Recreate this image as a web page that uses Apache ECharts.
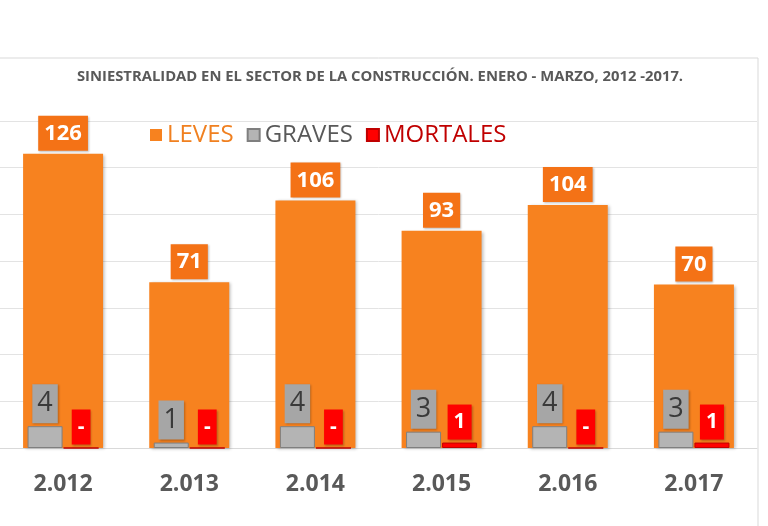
<!DOCTYPE html>
<html><head><meta charset="utf-8">
<script src="https://cdn.jsdelivr.net/npm/echarts@6/dist/echarts.min.js"></script>
<style>html,body{margin:0;padding:0;background:#fff}#c{width:768px;height:526px}</style>
</head><body><div id="c"></div>
<script>
const categories = ['2.012','2.013','2.014','2.015','2.016','2.017'];
const leves = [126, 71, 106, 93, 104, 70];
const graves = [4, 1, 4, 3, 4, 3];
const mortales = [0, 0, 0, 1, 0, 1];
const yTicks = {min: 0, max: 140, interval: 20};
const y2Range = {min: 0, max: 60};

const FONT = '"Open Sans", "Noto Sans", sans-serif';
const chart = echarts.init(document.getElementById('c'), null, {renderer: 'canvas'});
chart.setOption({
  animation: false,
  title: {
    text: 'SINIESTRALIDAD EN EL SECTOR DE LA CONSTRUCCIÓN. ENERO - MARZO, 2012 -2017.',
    left: 375, textAlign: 'center', top: 64,
    textStyle: {fontFamily: FONT, fontSize: 14.8, fontWeight: 'bold', color: '#595959'}
  },
  graphic: [{
    type: 'rect', shape: {x: -5, y: 58, width: 763, height: 500},
    style: {fill: 'none', stroke: '#D9D9D9', lineWidth: 1}, silent: true, z: -1
  }],
  legend: {
    left: 145, top: 118, itemWidth: 12, itemHeight: 12, itemGap: 13, icon: 'rect',
    textStyle: {fontFamily: FONT, fontSize: 24},
    data: [
      {name: 'LEVES', textStyle: {color: '#F08020'}},
      {name: 'GRAVES', textStyle: {color: '#595959'}},
      {name: 'MORTALES', textStyle: {color: '#C00000'}}
    ]
  },
  grid: {left: -1, width: 758, top: 121, bottom: 78},
  xAxis: [{
    type: 'category', data: categories,
    axisLine: {lineStyle: {color: '#D9D9D9'}}, axisTick: {show: false},
    axisLabel: {fontFamily: FONT, fontSize: 23, fontWeight: 'bold', color: '#595959', margin: 25}
  }, {
    type: 'category', data: categories, show: false
  }],
  yAxis: [{
    type: 'value', min: yTicks.min, max: yTicks.max, interval: yTicks.interval,
    axisLabel: {show: false}, axisLine: {show: false}, axisTick: {show: false},
    splitLine: {lineStyle: {color: '#E3E3E3'}}
  }, {
    type: 'value', min: y2Range.min, max: y2Range.max, show: false, splitLine: {show: false}
  }],
  series: [{
    name: 'LEVES', type: 'bar', data: leves, xAxisIndex: 0, yAxisIndex: 0, barWidth: 80,
    itemStyle: {color: '#F7821F', shadowColor: 'rgba(0,0,0,0.25)', shadowBlur: 3, shadowOffsetX: 2, shadowOffsetY: 1},
    label: {
      show: true, position: 'top', distance: 3, fontFamily: FONT, fontSize: 22, fontWeight: 'bold',
      color: '#fff', backgroundColor: '#F47216', padding: [7, 6, 6, 6], lineHeight: 22,
      shadowColor: 'rgba(0,0,0,0.25)', shadowBlur: 2, shadowOffsetX: 1, shadowOffsetY: 1
    }
  }, {
    name: 'GRAVES', type: 'bar', data: graves, xAxisIndex: 1, yAxisIndex: 1, barWidth: 35, barGap: '3%',
    itemStyle: {color: '#B4B4B4', borderColor: '#7F7F7F', borderWidth: 1},
    label: {
      show: true, position: 'top', distance: 3, fontFamily: FONT, fontSize: 27,
      color: '#3A3A3A', backgroundColor: '#A6A6A6', padding: [6, 5, 6, 5], lineHeight: 27,
      shadowColor: 'rgba(0,0,0,0.25)', shadowBlur: 2, shadowOffsetX: 1, shadowOffsetY: 1
    }
  }, {
    name: 'MORTALES', type: 'bar', data: mortales, xAxisIndex: 1, yAxisIndex: 1, barWidth: 35,
    itemStyle: {color: '#FF0000', borderColor: '#C00000', borderWidth: 1},
    label: {
      show: true, position: 'top', distance: 3, fontFamily: FONT, fontSize: 21, fontWeight: 'bold',
      color: '#fff', backgroundColor: '#FF0000', padding: [7, 6], lineHeight: 21,
      formatter: p => p.value === 0 ? '-' : String(p.value),
      shadowColor: 'rgba(0,0,0,0.25)', shadowBlur: 2, shadowOffsetX: 1, shadowOffsetY: 1
    }
  }]
});
</script></body></html>
